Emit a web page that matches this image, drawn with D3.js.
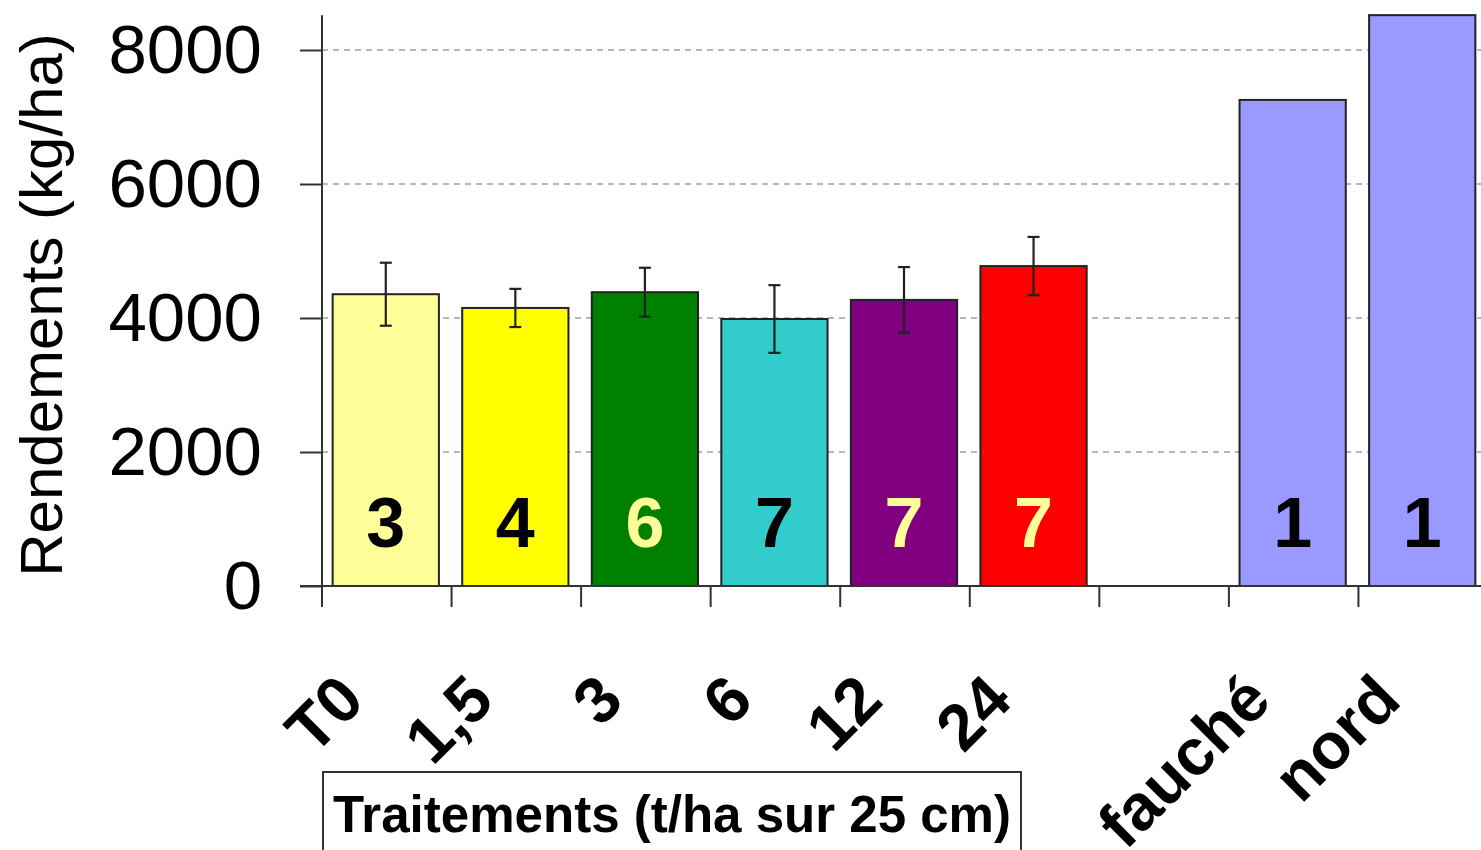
<!DOCTYPE html>
<html>
<head>
<meta charset="utf-8">
<script src="https://cdn.jsdelivr.net/npm/d3@7"></script>
<style>
  body { margin: 0; background: #fff; }
  svg { display: block; font-family: "Liberation Sans", Arial, sans-serif; }
</style>
</head>
<body>
<svg id="chart" width="1481" height="850"></svg>
<script>
// data
var categories = ['T0', '1,5', '3', '6', '12', '24', '', 'fauché', 'nord'];
var yields = [4355, 4150, 4385, 3985, 4270, 4775, null, 7255, 8520];
var errors = [470, 285, 365, 505, 490, 435, null, null, null];
var counts = [3, 4, 6, 7, 7, 7, null, 1, 1];
var yTicks = [0, 2000, 4000, 6000, 8000];

var fills = ['#ffff99', '#ffff00', '#008000', '#33cccc', '#800080', '#ff0000', 'none', '#9999ff', '#9999ff'];
var countColors = ['#000', '#000', '#ffff99', '#000', '#ffff99', '#ffff99', '#000', '#000', '#000'];

var svg = d3.select('#chart');

var x = d3.scaleBand()
  .domain(categories)
  .range([322, 1488])
  .paddingInner(0.18)
  .paddingOuter(0.09);

var y = d3.scaleLinear()
  .domain([0, 8000])
  .range([586, 50]);

var step = x.step();
var bw = x.bandwidth();

var rows = categories.map(function (c, i) {
  return { cat: c, val: yields[i], err: errors[i], n: counts[i], fill: fills[i], nc: countColors[i] };
});

// dashed grid
svg.append('g')
  .selectAll('line')
  .data(yTicks.slice(1))
  .enter().append('line')
  .attr('x1', 322).attr('x2', 1481)
  .attr('y1', function (d) { return y(d); })
  .attr('y2', function (d) { return y(d); })
  .attr('stroke', '#a0a0a0')
  .attr('stroke-width', 1.5)
  .attr('stroke-dasharray', '6,5');

// bars
var bars = rows.filter(function (d) { return d.val !== null; });

svg.append('g')
  .selectAll('rect')
  .data(bars)
  .enter().append('rect')
  .attr('x', function (d) { return x(d.cat) - 1; })
  .attr('width', bw)
  .attr('y', function (d) { return y(d.val); })
  .attr('height', function (d) { return y(0) - y(d.val); })
  .attr('fill', function (d) { return d.fill; })
  .attr('stroke', '#222')
  .attr('stroke-width', 2);

// error bars
var eb = svg.append('g')
  .selectAll('g')
  .data(rows.filter(function (d) { return d.err !== null; }))
  .enter().append('g')
  .attr('stroke', '#222')
  .attr('stroke-width', 2.2);

eb.append('line')
  .attr('x1', function (d) { return x(d.cat) + bw / 2 - 1; })
  .attr('x2', function (d) { return x(d.cat) + bw / 2 - 1; })
  .attr('y1', function (d) { return y(d.val + d.err); })
  .attr('y2', function (d) { return y(d.val - d.err); });

[1, -1].forEach(function (s) {
  eb.append('line')
    .attr('x1', function (d) { return x(d.cat) + bw / 2 - 7; })
    .attr('x2', function (d) { return x(d.cat) + bw / 2 + 5; })
    .attr('y1', function (d) { return y(d.val + s * d.err); })
    .attr('y2', function (d) { return y(d.val + s * d.err); });
});

// counts inside the bars
svg.append('g')
  .selectAll('text')
  .data(bars)
  .enter().append('text')
  .attr('x', function (d) { return x(d.cat) + bw / 2 - 1; })
  .attr('y', 547)
  .attr('text-anchor', 'middle')
  .attr('font-size', 70)
  .attr('font-weight', 'bold')
  .attr('fill', function (d) { return d.nc; })
  .text(function (d) { return d.n; });

// y axis
var yAxis = svg.append('g').attr('transform', 'translate(322,0)')
  .call(d3.axisLeft(y).tickValues(yTicks).tickSize(22).tickPadding(38).tickFormat(d3.format('d')));
yAxis.select('.domain').remove();
yAxis.append('line')
  .attr('x1', 0).attr('x2', 0)
  .attr('y1', y(8520)).attr('y2', y(0))
  .attr('stroke', '#333').attr('stroke-width', 2);
yAxis.selectAll('.tick line').attr('stroke', '#333').attr('stroke-width', 2);
yAxis.selectAll('.tick text')
  .attr('font-size', 69)
  .attr('font-family', '"Liberation Sans", Arial, sans-serif')
  .attr('fill', '#000');

// x axis line and boundary ticks
svg.append('line')
  .attr('x1', 300).attr('x2', 1481)
  .attr('y1', y(0)).attr('y2', y(0))
  .attr('stroke', '#333').attr('stroke-width', 2);

svg.append('g')
  .selectAll('line')
  .data(categories)
  .enter().append('line')
  .attr('x1', function (d) { return x(d) - step * 0.09; })
  .attr('x2', function (d) { return x(d) - step * 0.09; })
  .attr('y1', y(0)).attr('y2', y(0) + 21)
  .attr('stroke', '#333').attr('stroke-width', 2);

// rotated category labels
svg.append('g')
  .selectAll('text')
  .data(categories.filter(function (c) { return c !== ''; }))
  .enter().append('text')
  .attr('transform', function (d) { return 'translate(' + (x(d) + bw / 2 - 20) + ',703) rotate(-45)'; })
  .attr('text-anchor', 'end')
  .attr('font-size', 65)
  .attr('font-weight', 'bold')
  .attr('fill', '#000')
  .text(function (d) { return d; });

// y axis title
svg.append('text')
  .attr('transform', 'translate(62,305) rotate(-90)')
  .attr('text-anchor', 'middle')
  .attr('font-size', 60)
  .attr('fill', '#000')
  .text('Rendements (kg/ha)');

// boxed treatment caption
svg.append('rect')
  .attr('x', 323).attr('y', 772)
  .attr('width', 698).attr('height', 100)
  .attr('fill', '#fff')
  .attr('stroke', '#333').attr('stroke-width', 2);

svg.append('text')
  .attr('x', 672).attr('y', 832)
  .attr('text-anchor', 'middle')
  .attr('font-size', 52)
  .attr('font-weight', 'bold')
  .attr('textLength', 678)
  .attr('lengthAdjust', 'spacingAndGlyphs')
  .attr('fill', '#000')
  .text('Traitements (t/ha sur 25 cm)');
</script>
</body>
</html>
